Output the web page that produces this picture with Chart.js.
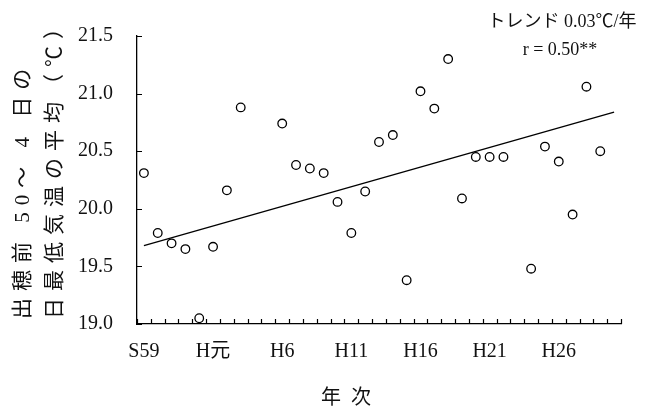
<!DOCTYPE html>
<html>
<head>
<meta charset="utf-8">
<script src="https://cdn.jsdelivr.net/npm/chart.js@4/dist/chart.umd.min.js"></script>
<style>
  body { margin: 0; background: #fff; }
  #wrap { width: 655px; height: 418px; position: relative; }
</style>
</head>
<body>
<div id="wrap"><canvas id="tempChart"></canvas></div>
<script>
// 年次 (S59 = 1984 ... H30 = 2018)
const years = ['S59', 'S60', 'S61', 'S62', 'S63', 'H元', 'H2', 'H3', 'H4', 'H5',
  'H6', 'H7', 'H8', 'H9', 'H10', 'H11', 'H12', 'H13', 'H14', 'H15',
  'H16', 'H17', 'H18', 'H19', 'H20', 'H21', 'H22', 'H23', 'H24', 'H25',
  'H26', 'H27', 'H28', 'H29', 'H30'];

// 出穂前50～4日の日最低気温の平均 (℃), null = no point
const minTemps = [20.31, 19.79, 19.70, 19.65, 19.05, 19.67, 20.16, 20.88, null, null,
  20.74, 20.38, 20.35, 20.31, 20.06, 19.79, 20.15, 20.58, 20.64, 19.38,
  21.02, 20.87, 21.30, 20.09, 20.45, 20.45, 20.45, null, 19.48, 20.54,
  20.41, 19.95, 21.06, 20.50, null];

// trend line ends (first and last year)
const trendStart = 19.68;
const trendEnd = 20.84;

const yTicks = [19.0, 19.5, 20.0, 20.5, 21.0, 21.5];
const labelEvery = 5;

const trendText = 'トレンド 0.03℃/年';
const rText = 'r = 0.50**';
const yTitle = ['出穂前 50～ 4 日の', '日最低気温の平均（℃）'];
const xTitle = '年次';

const FONT = '"Liberation Serif", "Noto Sans CJK JP", serif';

const trendData = years.map((_, i) => i === 0 ? trendStart : (i === years.length - 1 ? trendEnd : null));

// inward tick marks, like the original spreadsheet chart
const tickMarks = {
  id: 'tickMarks',
  afterDatasetsDraw(chart) {
    const ctx = chart.ctx;
    const x = chart.scales.x, y = chart.scales.y;
    const area = chart.chartArea;
    ctx.save();
    ctx.strokeStyle = '#000';
    ctx.lineWidth = 1.2;
    ctx.beginPath();
    for (let i = 0; i <= years.length; i++) {
      const px = Math.round(x.getPixelForValue(i - 0.5)) + 0.5;
      ctx.moveTo(px, area.bottom);
      ctx.lineTo(px, area.bottom - 5);
    }
    yTicks.forEach(v => {
      const py = Math.round(y.getPixelForValue(v)) + 0.5;
      ctx.moveTo(area.left, py);
      ctx.lineTo(area.left + 5, py);
    });
    ctx.stroke();
    ctx.restore();
  }
};

// titles and the trend note
const texts = {
  id: 'texts',
  afterDraw(chart) {
    const ctx = chart.ctx;
    ctx.save();
    ctx.fillStyle = '#111';
    ctx.textBaseline = 'middle';

    ctx.font = '18px ' + FONT;
    ctx.textAlign = 'center';
    ctx.fillText(trendText, 562, 22);
    ctx.fillText(rText, 560, 50);

    ctx.font = '20px ' + FONT;
    ctx.letterSpacing = '10px';
    ctx.fillText(xTitle, 351, 399);

    ctx.font = '21px ' + FONT;
    ctx.letterSpacing = '7px';
    ctx.textAlign = 'left';
    const cols = [23, 55];
    yTitle.forEach((line, i) => {
      ctx.save();
      ctx.translate(cols[i], 319);
      ctx.rotate(-Math.PI / 2);
      ctx.fillText(line, 0, 0);
      ctx.restore();
    });
    ctx.restore();
  }
};

new Chart(document.getElementById('tempChart'), {
  type: 'line',
  data: {
    labels: years,
    datasets: [
      {
        label: '日最低気温',
        data: minTemps,
        showLine: false,
        pointStyle: 'circle',
        pointRadius: 4.3,
        pointBorderWidth: 1.3,
        pointBorderColor: '#000',
        pointBackgroundColor: '#fff',
        order: 1
      },
      {
        label: 'トレンド',
        data: trendData,
        spanGaps: true,
        borderColor: '#000',
        borderWidth: 1.3,
        pointRadius: 0,
        fill: false,
        order: 2
      }
    ]
  },
  options: {
    responsive: true,
    maintainAspectRatio: false,
    animation: false,
    layout: { padding: { top: 14, right: 34, left: 0, bottom: 0 } },
    plugins: {
      legend: { display: false },
      tooltip: { enabled: false }
    },
    scales: {
      x: {
        type: 'category',
        offset: true,
        grid: { display: false, drawTicks: false },
        border: { display: true, color: '#000', width: 1.3 },
        ticks: {
          autoSkip: false,
          maxRotation: 0,
          padding: 16,
          color: '#111',
          font: { family: FONT, size: 20 },
          callback: function(val, index) {
            return index % labelEvery === 0 ? this.getLabelForValue(val) : '';
          }
        },
        afterFit: scale => { scale.height = 94; }
      },
      y: {
        min: 19.0,
        max: 21.5,
        grid: { display: false, drawTicks: false },
        border: { display: true, color: '#000', width: 1.3 },
        ticks: {
          stepSize: 0.5,
          padding: 24,
          color: '#111',
          font: { family: FONT, size: 20 },
          callback: v => v.toFixed(1)
        },
        afterFit: scale => { scale.width = 137; }
      }
    }
  },
  plugins: [tickMarks, texts]
});
</script>
</body>
</html>
